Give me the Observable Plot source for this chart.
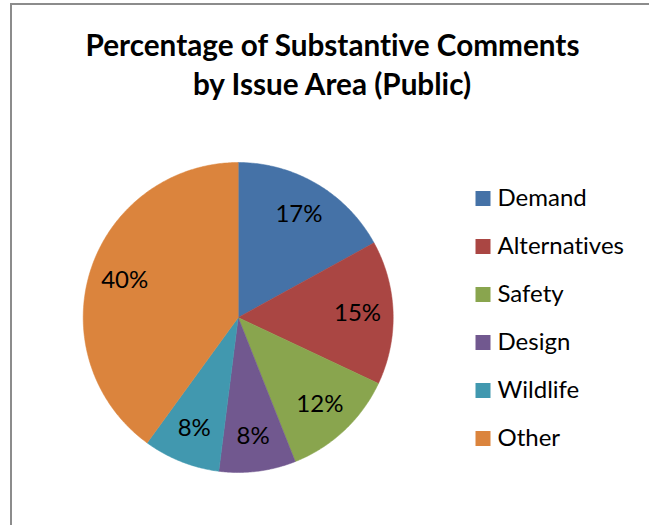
<!DOCTYPE html>
<html>
<head>
<meta charset="utf-8">
<script src="https://cdn.jsdelivr.net/npm/d3@7"></script>
<script src="https://cdn.jsdelivr.net/npm/@observablehq/plot@0.6"></script>
<style>
  html, body { margin: 0; padding: 0; background: #fff; }
  #wrap { position: relative; width: 649px; height: 525px; overflow: hidden; font-family: Lato, "Open Sans", sans-serif; }
  #frame { position: absolute; left: 10px; top: 3px; width: 700px; height: 600px; border: 2px solid #8c8c8c; box-sizing: border-box; }
  #main { position: absolute; left: 0; top: 0; }
  #legend { position: absolute; left: 470px; top: 170px; }
  svg, svg text { font-family: Lato, "Open Sans", sans-serif; font-variant-ligatures: none; font-feature-settings: "liga" 0, "clig" 0; }
</style>
</head>
<body>
<div id="wrap"><div id="frame"></div><div id="main"></div><div id="legend"></div></div>
<script>
const categories = ["Demand", "Alternatives", "Safety", "Design", "Wildlife", "Other"];
const values = [17, 15, 12, 8, 8, 40];
const colors = ["#4572A7", "#AA4643", "#89A54E", "#71588F", "#4198AF", "#DB843D"];
const titleLines = ["Percentage of Substantive Comments", "by Issue Area (Public)"];

const data = categories.map((c, i) => ({category: c, value: values[i]}));
const arcs = d3.pie().sort(null).value(d => d.value)(data);

// polygon outline points for each slice (unit circle, angle 0 at top, clockwise)
const slices = arcs.map(a => {
  const pts = [{x: 0, y: 0}];
  const n = Math.max(8, Math.ceil((a.endAngle - a.startAngle) / 0.01));
  for (let k = 0; k <= n; k++) {
    const t = a.startAngle + (a.endAngle - a.startAngle) * k / n;
    pts.push({x: Math.sin(t), y: Math.cos(t)});
  }
  pts.push({x: 0, y: 0});
  return {category: a.data.category, pts};
});
const labelR = 0.77;
const labels = arcs.map(a => {
  const m = (a.startAngle + a.endAngle) / 2;
  return {x: Math.sin(m) * labelR, y: Math.cos(m) * labelR, text: a.data.value + "%"};
});

const colorScale = {domain: categories, range: colors};
const R = 155, cx = 237.7, cy = 317, W = 649, H = 525;

const main = Plot.plot({
  width: W, height: H, margin: 0,
  x: {domain: [-cx / R, (W - cx) / R], axis: null},
  y: {domain: [-(H - cy) / R, cy / R], axis: null},
  color: colorScale,
  marks: [
    ...slices.map(s => Plot.line(s.pts, {x: "x", y: "y", fill: colors[categories.indexOf(s.category)], stroke: colors[categories.indexOf(s.category)], strokeWidth: 0.5, curve: "linear"})),
    Plot.text(labels, {x: "x", y: "y", text: "text", fontSize: 24, fill: "#000"}),
    Plot.text([titleLines[0]], {text: d => d, frameAnchor: "top", lineAnchor: "middle", dx: 7.5, dy: 45.5, fontSize: 29.7, fontWeight: "bold", fill: "#000"}),
    Plot.text([titleLines[1]], {text: d => d, frameAnchor: "top", lineAnchor: "middle", dx: 7, dy: 84.5, fontSize: 29.7, fontWeight: "bold", fill: "#000"})
  ]
});
document.getElementById("main").appendChild(main);

const legend = Plot.plot({
  width: 179, height: 290,
  marginTop: 27, marginBottom: 22, marginLeft: 12.5, marginRight: 0,
  y: {type: "point", domain: categories, padding: 0, axis: null},
  color: colorScale,
  marks: [
    Plot.dot(categories, {y: d => d, frameAnchor: "left", symbol: "square", r: 8.46, fill: d => d, stroke: null}),
    Plot.text(categories, {y: d => d, frameAnchor: "left", dx: 14.5, text: d => d, textAnchor: "start", fontSize: 24, fill: "#000"})
  ]
});
document.getElementById("legend").appendChild(legend);
</script>
</body>
</html>
